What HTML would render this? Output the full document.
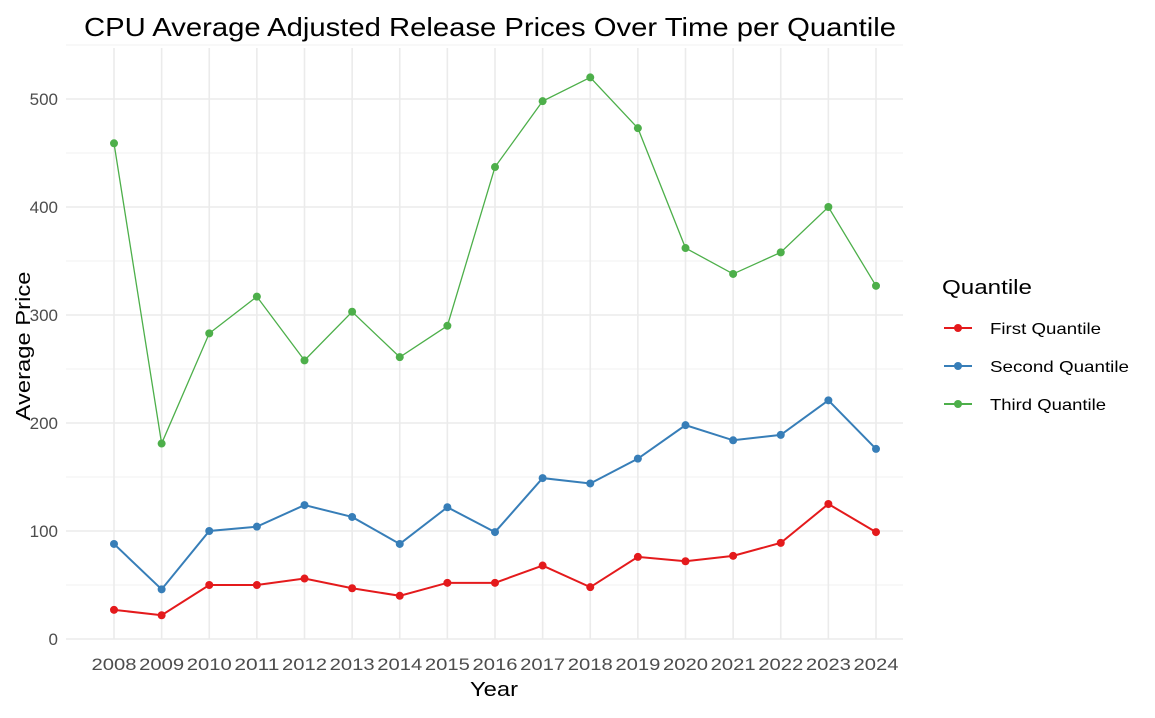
<!DOCTYPE html>
<html><head><meta charset="utf-8"><style>
body{margin:0;background:#fff;font-family:"Liberation Sans",sans-serif}
</style></head><body>
<svg id="chart" width="1155" height="713" xmlns="http://www.w3.org/2000/svg">
<text x="84" y="36" font-size="26" textLength="812" lengthAdjust="spacingAndGlyphs" fill="#000">CPU Average Adjusted Release Prices Over Time per Quantile</text>
<g id="grid"></g><g id="series"></g><g id="ticks"></g>
<text x="494" y="696" font-size="20" textLength="48" lengthAdjust="spacingAndGlyphs" text-anchor="middle">Year</text>
<text transform="translate(30,346) rotate(-90)" font-size="20" textLength="149" lengthAdjust="spacingAndGlyphs" text-anchor="middle">Average Price</text>
<text x="942" y="294" font-size="20" textLength="90" lengthAdjust="spacingAndGlyphs">Quantile</text>
<g id="legend"></g>
</svg>
<script>
const years=[2008,2009,2010,2011,2012,2013,2014,2015,2016,2017,2018,2019,2020,2021,2022,2023,2024];
const first=[27,22,50,50,56,47,40,52,52,68,48,76,72,77,89,125,99];
const second=[88,46,100,104,124,113,88,122,99,149,144,167,198,184,189,221,176];
const third=[459,181,283,317,258,303,261,290,437,498,520,473,362,338,358,400,327];
const yTicks=[0,100,200,300,400,500];
const seriesNames=["First Quantile","Second Quantile","Third Quantile"];
const legendLens=[111,139,116];
const NS="http://www.w3.org/2000/svg";
const X=y=>114+(y-2008)*47.625;
const Y=v=>639-v*1.08;
function mk(t,a,p){const e=document.createElementNS(NS,t);for(const k in a)e.setAttribute(k,a[k]);p.appendChild(e);return e;}
const g=document.getElementById('grid'),tk=document.getElementById('ticks');
for(let v=50;v<=550;v+=100){const l=mk('line',{x1:66,x2:903,y1:Y(v),y2:Y(v),stroke:'#f0f0f0','stroke-width':1},g);

}
yTicks.forEach(v=>{const l=mk('line',{x1:66,x2:903,y1:Y(v),y2:Y(v),stroke:'#ebebeb','stroke-width':1.6},g);


const t=mk('text',{x:58,y:Y(v)+6,'font-size':17,fill:'#4d4d4d','text-anchor':'end'},tk);t.textContent=v;

});
years.forEach(y=>{const l=mk('line',{x1:X(y),x2:X(y),y1:48,y2:639,stroke:'#ebebeb','stroke-width':1.6},g);


const t=mk('text',{x:X(y),y:670,'font-size':17,textLength:45,lengthAdjust:'spacingAndGlyphs',fill:'#4d4d4d','text-anchor':'middle'},tk);t.textContent=y;

});
const s=document.getElementById('series'),lg=document.getElementById('legend');
const data=[first,second,third],cols=['#e41a1c','#377eb8','#4daf4a'],widths=[2,2,1.3];
data.forEach((d,i)=>{const p=mk('polyline',{points:d.map((v,j)=>X(years[j])+','+Y(v)).join(' '),fill:'none',stroke:cols[i],'stroke-width':widths[i]},s);


d.forEach((v,j)=>{const c=mk('circle',{cx:X(years[j]),cy:Y(v),r:4,fill:cols[i]},s);

});
const ly=328+i*38;
const ll=mk('line',{x1:944,x2:972,y1:ly,y2:ly,stroke:cols[i],'stroke-width':2},lg);


const lc=mk('circle',{cx:958,cy:ly,r:4,fill:cols[i]},lg);


const lt=mk('text',{x:990,y:ly+6,'font-size':16,textLength:legendLens[i],lengthAdjust:'spacingAndGlyphs',fill:'#000'},lg);lt.textContent=seriesNames[i];

});
</script>
</body></html>
